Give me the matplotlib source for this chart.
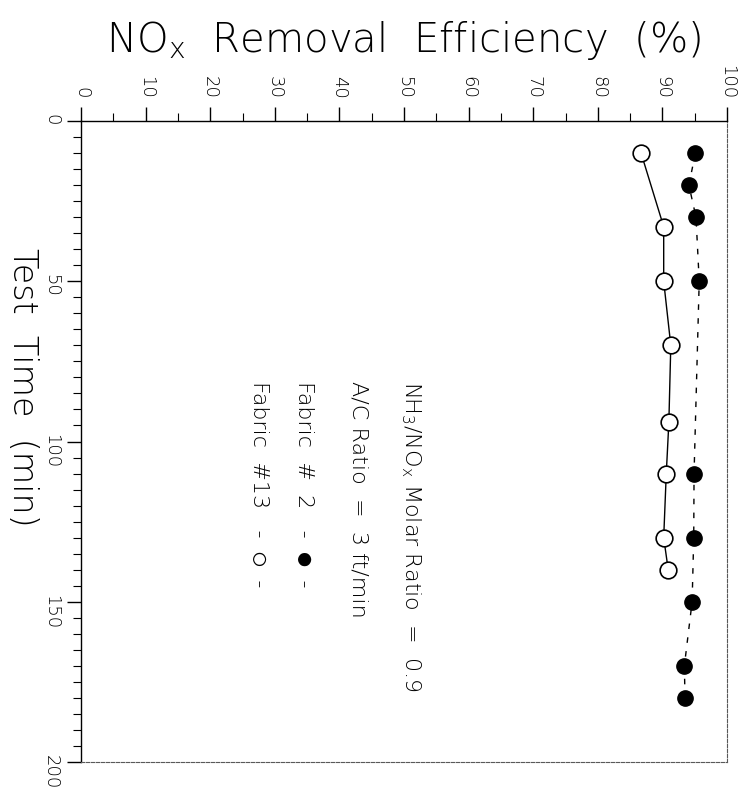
import matplotlib
matplotlib.use("Agg")
import matplotlib.pyplot as plt
from matplotlib.ticker import MultipleLocator

# test time (min) and NOx removal efficiency (%)
time_fab2 = [10, 20, 30, 50, 110, 130, 150, 170, 180]
eff_fab2 = [95.1, 94.1, 95.2, 95.7, 94.9, 94.85, 94.6, 93.4, 93.5]

time_fab13 = [10, 33, 50, 70, 94, 110, 130, 140]
eff_fab13 = [86.7, 90.2, 90.2, 91.3, 91.0, 90.6, 90.2, 90.9]

eff_ticks = list(range(0, 101, 10))
time_ticks = list(range(0, 201, 50))

notes = ["NH$_3$/NO$_x$ Molar Ratio  =  0.9",
         "A/C Ratio  =  3 ft/min",
         "Fabric  #  2   -  \u25cf  -",
         "Fabric  #13   -  \u25cb  -"]

# light face has no circle glyphs, the mono face fills them in
plt.rcParams['font.family'] = ['DejaVu Sans', 'DejaVu Sans Mono', 'Noto Sans CJK JP']
plt.rcParams['font.weight'] = 'light'
plt.rcParams['mathtext.default'] = 'regular'

W, H = 746, 788
fig = plt.figure(figsize=(W / 100, H / 100), dpi=100)
ax = fig.add_axes([81 / W, 1 - 762 / H, (727 - 81) / W, (762 - 121) / H])

# page is turned: efficiency runs across the top, time runs down
ax.plot(eff_fab2, time_fab2, color='black', lw=1.0, ls=(0, (4, 6)),
        marker='o', ms=11, mfc='black', mec='black')
ax.plot(eff_fab13, time_fab13, color='black', lw=1.0, ls='-',
        marker='o', ms=12, mfc='white', mec='black', mew=1.2)

ax.set_xlim(0, 100)
ax.set_ylim(200, 0)
ax.xaxis.tick_top()
ax.set_xticks(eff_ticks)
ax.set_yticks(time_ticks)
ax.xaxis.set_minor_locator(MultipleLocator(5))
ax.yaxis.set_minor_locator(MultipleLocator(5))
ax.tick_params(axis='both', which='major', direction='out', length=10, width=1,
               labelsize=13, labelrotation=-90)
ax.tick_params(axis='both', which='minor', direction='out', length=6, width=0.8)
ax.tick_params(axis='x', which='major', pad=6)
ax.tick_params(axis='y', which='major', pad=5)

for s in ['right', 'bottom']:
    ax.spines[s].set_linestyle((0, (3, 1.5)))
    ax.spines[s].set_linewidth(0.8)
    ax.spines[s].set_color('0.35')
for s in ['left', 'top']:
    ax.spines[s].set_linewidth(1.0)

fig.text(404 / W, 1 - 40 / H, 'NO$_x$  Removal  Efficiency  (%)', fontsize=29,
         ha='center', va='center')
fig.text(22 / W, 1 - (121 + 83 * 3.205) / H, 'Test  Time  (min)', fontsize=24,
         rotation=-90, ha='center', va='center')

xs = [0.51, 0.43, 0.345, 0.275]
for x, s in zip(xs, notes):
    ax.text(x, 1 - 81 / 200, s, transform=ax.transAxes, fontsize=16,
            rotation=-90, ha='center', va='top')

fig.savefig('out.png', dpi=100)
